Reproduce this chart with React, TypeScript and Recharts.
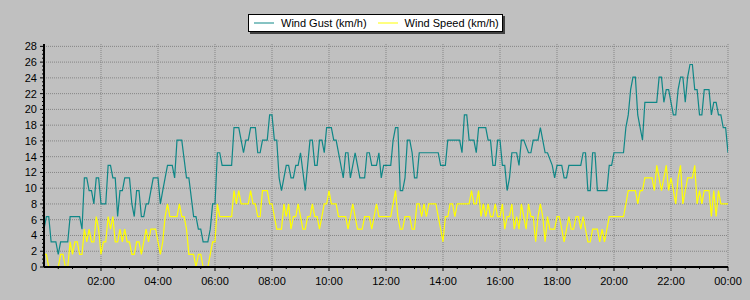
import React from "react";
import { LineChart, Line, XAxis, YAxis, CartesianGrid, Legend } from "recharts";

// Times are minutes after midnight; values are km/h.
const gustTimes = [
  0, 5, 10, 15, 25, 30, 35, 50, 55, 75, 80, 85, 90, 95, 100, 105, 110, 115, 120, 130,
  135, 140, 145, 150, 155, 160, 165, 170, 180, 185, 190, 195, 200, 205, 210, 215, 220, 225, 230, 240,
  245, 250, 255, 260, 270, 275, 280, 290, 300, 305, 315, 320, 325, 330, 335, 345, 350, 355, 360, 365,
  370, 375, 395, 400, 410, 415, 420, 425, 430, 435, 445, 450, 455, 460, 470, 475, 480, 485, 490, 495,
  500, 510, 515, 520, 525, 530, 535, 540, 550, 555, 560, 565, 570, 575, 580, 585, 590, 595, 605, 610,
  615, 630, 635, 640, 645, 650, 655, 660, 665, 675, 680, 685, 690, 700, 705, 710, 715, 730, 735, 740,
  745, 750, 755, 760, 765, 770, 775, 780, 785, 790, 830, 835, 845, 850, 875, 880, 885, 890, 895, 905,
  910, 915, 930, 935, 940, 945, 950, 955, 960, 965, 970, 975, 980, 985, 995, 1000, 1005, 1010, 1020, 1025,
  1030, 1040, 1045, 1050, 1055, 1060, 1070, 1075, 1080, 1090, 1095, 1100, 1105, 1130, 1135, 1140, 1145, 1150, 1155, 1160,
  1165, 1185, 1190, 1195, 1200, 1220, 1225, 1230, 1235, 1240, 1245, 1250, 1255, 1260, 1265, 1290, 1295, 1300, 1305, 1310,
  1315, 1320, 1325, 1330, 1335, 1340, 1345, 1350, 1355, 1360, 1365, 1370, 1375, 1380, 1385, 1390, 1400, 1405, 1410, 1415,
  1420, 1425, 1430, 1435, 1440,
];
const gustValues = [
  4.8, 6.4, 6.4, 3.2, 3.2, 1.6, 3.2, 3.2, 6.4, 6.4, 4.8, 11.3, 11.3, 9.7, 9.7, 8.0, 11.3, 11.3, 8.0, 8.0,
  12.9, 12.9, 11.3, 11.3, 6.4, 9.7, 9.7, 11.3, 11.3, 8.0, 6.4, 9.7, 9.7, 6.4, 6.4, 8.0, 8.0, 9.7, 11.3, 11.3,
  8.0, 9.7, 11.3, 12.9, 12.9, 11.3, 16.1, 16.1, 11.3, 11.3, 6.4, 6.4, 4.8, 4.8, 3.2, 3.2, 4.8, 8.0, 8.0, 14.5,
  14.5, 12.9, 12.9, 17.7, 17.7, 16.1, 14.5, 16.1, 16.1, 17.7, 17.7, 14.5, 14.5, 16.1, 16.1, 19.3, 19.3, 16.1, 16.1, 11.3,
  9.7, 12.9, 12.9, 11.3, 11.3, 12.9, 12.9, 14.5, 9.7, 12.9, 16.1, 16.1, 12.9, 12.9, 16.1, 16.1, 14.5, 17.7, 17.7, 16.1,
  16.1, 11.3, 14.5, 14.5, 11.3, 12.9, 14.5, 12.9, 11.3, 11.3, 14.5, 14.5, 12.9, 12.9, 14.5, 11.3, 12.9, 12.9, 16.1, 17.7,
  17.7, 9.7, 9.7, 11.3, 16.1, 16.1, 14.5, 11.3, 11.3, 14.5, 14.5, 12.9, 12.9, 16.1, 16.1, 14.5, 19.3, 19.3, 16.1, 16.1,
  14.5, 17.7, 17.7, 16.1, 16.1, 12.9, 12.9, 16.1, 16.1, 12.9, 12.9, 9.7, 11.3, 14.5, 14.5, 12.9, 16.1, 16.1, 14.5, 14.5,
  16.1, 16.1, 17.7, 16.1, 14.5, 14.5, 12.9, 11.3, 12.9, 12.9, 11.3, 11.3, 12.9, 12.9, 14.5, 14.5, 9.7, 9.7, 14.5, 14.5,
  9.7, 9.7, 12.9, 12.9, 14.5, 14.5, 17.7, 19.3, 22.5, 24.1, 24.1, 19.3, 17.7, 16.1, 20.9, 20.9, 24.1, 24.1, 20.9, 22.5,
  22.5, 20.9, 19.3, 19.3, 22.5, 24.1, 24.1, 20.9, 24.1, 25.7, 25.7, 22.5, 22.5, 19.3, 19.3, 22.5, 22.5, 19.3, 20.9, 20.9,
  19.3, 19.3, 17.7, 17.7, 14.5,
];

const speedTimes = [
  0, 5, 10, 30, 35, 40, 45, 50, 55, 60, 65, 70, 75, 80, 85, 90, 95, 100, 105, 110,
  115, 120, 125, 130, 135, 140, 145, 150, 155, 160, 165, 170, 175, 180, 185, 190, 195, 200, 205, 210,
  215, 220, 225, 235, 240, 245, 250, 255, 260, 265, 280, 285, 290, 295, 300, 305, 315, 320, 325, 330,
  335, 345, 350, 355, 360, 365, 370, 395, 400, 405, 410, 415, 430, 435, 440, 445, 450, 455, 460, 470,
  475, 480, 485, 490, 500, 505, 510, 515, 520, 525, 530, 535, 540, 545, 550, 555, 560, 565, 570, 575,
  580, 585, 590, 595, 600, 605, 615, 620, 635, 640, 645, 650, 655, 660, 670, 675, 685, 690, 695, 700,
  705, 730, 735, 740, 745, 750, 755, 760, 770, 775, 780, 785, 790, 795, 800, 805, 810, 825, 830, 835,
  840, 845, 850, 855, 860, 865, 870, 895, 900, 905, 910, 915, 920, 925, 930, 935, 940, 945, 950, 955,
  960, 965, 970, 975, 980, 985, 990, 995, 1000, 1005, 1010, 1015, 1020, 1025, 1030, 1035, 1040, 1045, 1050, 1055,
  1060, 1065, 1075, 1080, 1085, 1090, 1095, 1100, 1105, 1110, 1115, 1120, 1125, 1130, 1135, 1140, 1145, 1150, 1155, 1165,
  1170, 1175, 1180, 1185, 1190, 1220, 1225, 1230, 1245, 1250, 1255, 1260, 1265, 1280, 1285, 1290, 1295, 1300, 1305, 1310,
  1315, 1320, 1325, 1330, 1335, 1340, 1345, 1350, 1355, 1365, 1370, 1375, 1380, 1385, 1390, 1400, 1405, 1410, 1415, 1420,
  1425, 1440,
];
const speedValues = [
  1.6, 1.6, 0, 0, 1.6, 1.6, 0, 0, 3.2, 1.6, 3.2, 3.2, 1.6, 1.6, 4.8, 3.2, 4.8, 3.2, 3.2, 6.4,
  4.8, 1.6, 3.2, 3.2, 6.4, 4.8, 6.4, 3.2, 3.2, 4.8, 3.2, 4.8, 3.2, 3.2, 1.6, 1.6, 3.2, 3.2, 1.6, 3.2,
  4.8, 3.2, 4.8, 4.8, 3.2, 1.6, 3.2, 6.4, 8.0, 6.4, 6.4, 8.0, 6.4, 6.4, 4.8, 1.6, 1.6, 0, 1.6, 1.6,
  0, 0, 1.6, 3.2, 3.2, 8.0, 6.4, 6.4, 9.7, 8.0, 9.7, 8.0, 8.0, 9.7, 8.0, 8.0, 6.4, 6.4, 9.7, 9.7,
  8.0, 8.0, 6.4, 4.8, 4.8, 8.0, 6.4, 8.0, 4.8, 6.4, 6.4, 8.0, 6.4, 4.8, 4.8, 6.4, 6.4, 8.0, 6.4, 6.4,
  4.8, 6.4, 8.0, 8.0, 9.7, 8.0, 8.0, 6.4, 6.4, 4.8, 6.4, 8.0, 6.4, 4.8, 4.8, 6.4, 6.4, 4.8, 6.4, 8.0,
  6.4, 6.4, 8.0, 9.7, 6.4, 4.8, 4.8, 6.4, 6.4, 4.8, 4.8, 8.0, 8.0, 6.4, 8.0, 6.4, 8.0, 8.0, 6.4, 4.8,
  3.2, 6.4, 6.4, 8.0, 8.0, 6.4, 8.0, 8.0, 9.7, 8.0, 8.0, 9.7, 6.4, 8.0, 6.4, 8.0, 6.4, 6.4, 8.0, 6.4,
  6.4, 8.0, 4.8, 6.4, 6.4, 8.0, 4.8, 6.4, 4.8, 8.0, 6.4, 4.8, 8.0, 6.4, 6.4, 3.2, 6.4, 8.0, 6.4, 3.2,
  6.4, 4.8, 4.8, 6.4, 6.4, 4.8, 3.2, 4.8, 6.4, 4.8, 4.8, 6.4, 6.4, 4.8, 6.4, 4.8, 3.2, 3.2, 4.8, 4.8,
  3.2, 4.8, 3.2, 4.8, 6.4, 6.4, 8.0, 9.7, 9.7, 8.0, 9.7, 9.7, 11.3, 11.3, 9.7, 12.9, 11.3, 9.7, 11.3, 12.9,
  9.7, 11.3, 9.7, 8.0, 11.3, 12.9, 8.0, 9.7, 11.3, 11.3, 12.9, 8.0, 9.7, 8.0, 9.7, 9.7, 6.4, 9.7, 6.4, 9.7,
  8.0, 8.0,
];

const xMajorTicks = [120, 240, 360, 480, 600, 720, 840, 960, 1080, 1200, 1320, 1440];
const xMinorTicks = Array.from({ length: 48 }, (_, i) => (i + 1) * 30);
const yMajorTicks = [0, 2, 4, 6, 8, 10, 12, 14, 16, 18, 20, 22, 24, 26, 28];
const yMinorTicks = Array.from({ length: 57 }, (_, i) => i * 0.5);

const gustData = gustTimes.map((t, i) => ({ t, v: gustValues[i] }));
const speedData = speedTimes.map((t, i) => ({ t, v: speedValues[i] }));

const GUST = "#0f8787";
const SPEED = "#ffff00";
const FONT = "Arial, 'Liberation Sans', sans-serif";

const fmt = (t: number) => {
  const m = t % 1440;
  const h = Math.floor(m / 60);
  const mm = m % 60;
  return `${String(h).padStart(2, "0")}:${String(mm).padStart(2, "0")}`;
};

const XTick = (props: any) => {
  const { x, y, payload } = props;
  const major = payload.value % 120 === 0;
  return (
    <g>
      <line x1={x} y1={y} x2={x} y2={y + (major ? 4 : 2)} stroke="#000" strokeWidth={1} />
      {major && (
        <text x={x} y={y + 18} textAnchor="middle" fontSize={11} fontFamily={FONT} fill="#000">
          {fmt(payload.value)}
        </text>
      )}
    </g>
  );
};

const YTick = (props: any) => {
  const { x, y, payload } = props;
  const major = payload.value % 2 === 0;
  return (
    <g>
      <line x1={x - (major ? 4 : 2)} y1={y} x2={x} y2={y} stroke="#000" strokeWidth={1} />
      {major && (
        <text x={x - 7} y={y + 4} textAnchor="end" fontSize={11} fontFamily={FONT} fill="#000">
          {payload.value}
        </text>
      )}
    </g>
  );
};

const LegendBox = (props: any) => {
  const items = props.payload || [];
  return (
    <div
      style={{
        display: "flex",
        alignItems: "center",
        background: "#fff",
        border: "1px solid #000",
        boxShadow: "2px 2px 0 #404040",
        height: 16,
        padding: "0 3px 0 5px",
        fontFamily: FONT,
        fontSize: 11,
        color: "#000",
        whiteSpace: "nowrap",
      }}
    >
      {items.map((it: any, i: number) => (
        <div key={i} style={{ display: "flex", alignItems: "center", marginLeft: i === 0 ? 0 : 11 }}>
          <svg width={20} height={2} style={{ marginRight: 7 }}>
            <line x1={0} y1={1} x2={20} y2={1} stroke={it.color} strokeWidth={1} />
          </svg>
          <span>{it.value}</span>
        </div>
      ))}
    </div>
  );
};

export default function App() {
  return (
    <div
      style={{
        position: "absolute",
        left: 0,
        top: 0,
        width: 750,
        height: 300,
        background: "#c0c0c0",
        overflow: "hidden",
      }}
    >
      <LineChart width={750} height={300} margin={{ top: 44, right: 22, bottom: 0, left: 0 }}>
        <CartesianGrid
          stroke="#858585"
          strokeDasharray="1 1"
          horizontalValues={yMajorTicks}
          verticalValues={xMajorTicks}
        />
        <XAxis
          dataKey="t"
          type="number"
          domain={[0, 1440]}
          allowDataOverflow
          ticks={xMinorTicks}
          interval={0}
          height={33}
          tickSize={0}
          tickMargin={0}
          tickLine={false}
          tick={XTick}
          axisLine={{ stroke: "#000", strokeWidth: 2 }}
        />
        <XAxis
          xAxisId="top"
          orientation="top"
          type="number"
          domain={[0, 1440]}
          height={0}
          tick={false}
          tickLine={false}
          axisLine={{ stroke: "#000", strokeWidth: 1 }}
        />
        <YAxis
          type="number"
          domain={[0, 28.3]}
          allowDataOverflow
          ticks={yMinorTicks}
          interval={0}
          width={44}
          tickSize={0}
          tickMargin={0}
          tickLine={false}
          tick={YTick}
          axisLine={{ stroke: "#000", strokeWidth: 2 }}
        />
        <YAxis
          yAxisId="right"
          orientation="right"
          type="number"
          domain={[0, 28.3]}
          width={0}
          tick={false}
          tickLine={false}
          axisLine={{ stroke: "#000", strokeWidth: 1 }}
        />
        <Legend
          layout="horizontal"
          verticalAlign="middle"
          align="center"
          content={LegendBox}
          wrapperStyle={{ position: "absolute", top: 14, left: 248, width: "auto", height: "auto" }}
        />
        <Line
          data={gustData}
          dataKey="v"
          name="Wind Gust (km/h)"
          type="linear"
          stroke={GUST}
          strokeWidth={1.2}
          dot={false}
          activeDot={false}
          isAnimationActive={false}
        />
        <Line
          data={speedData}
          dataKey="v"
          name="Wind Speed (km/h)"
          type="linear"
          stroke={SPEED}
          strokeWidth={1.2}
          dot={false}
          activeDot={false}
          isAnimationActive={false}
        />
      </LineChart>
    </div>
  );
}
